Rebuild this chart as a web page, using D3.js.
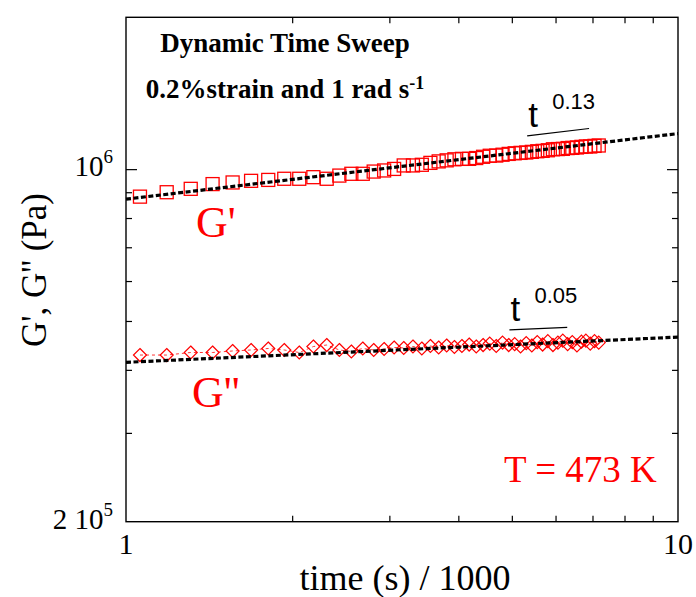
<!DOCTYPE html>
<html>
<head>
<meta charset="utf-8">
<script src="https://cdn.jsdelivr.net/npm/d3@7"></script>
<style>
  html, body { margin: 0; padding: 0; background: #fff; }
  svg { display: block; }
</style>
</head>
<body>
<svg id="chart" width="696" height="597"></svg>
<script>
// Dynamic time sweep, 0.2 % strain, 1 rad/s, T = 473 K
// time in units of 1000 s
const time = [
  1.06, 1.185, 1.31, 1.435, 1.56, 1.685, 1.81, 1.935, 2.06, 2.185,
  2.31, 2.435, 2.56, 2.685, 2.81, 2.935, 3.06, 3.185, 3.31, 3.435,
  3.56, 3.685, 3.81, 3.935, 4.06, 4.185, 4.31, 4.435, 4.56, 4.685,
  4.81, 4.935, 5.06, 5.185, 5.31, 5.435, 5.56, 5.685, 5.81, 5.935,
  6.06, 6.185, 6.31, 6.435, 6.56, 6.685, 6.81, 6.935, 7.06, 7.185
];
// storage modulus G' (Pa)
const storageModulus = [
  8.82e5, 9.00e5, 9.14e5, 9.34e5, 9.41e5, 9.48e5, 9.52e5, 9.57e5, 9.57e5, 9.64e5,
  9.57e5, 9.71e5, 9.79e5, 9.79e5, 9.89e5, 9.94e5, 1.001e6, 1.017e6, 1.017e6, 1.020e6,
  1.029e6, 1.036e6, 1.041e6, 1.046e6, 1.048e6, 1.048e6, 1.052e6, 1.058e6, 1.063e6, 1.064e6,
  1.068e6, 1.072e6, 1.075e6, 1.077e6, 1.079e6, 1.082e6, 1.085e6, 1.087e6, 1.090e6, 1.095e6,
  1.096e6, 1.097e6, 1.101e6, 1.102e6, 1.104e6, 1.107e6, 1.109e6, 1.109e6, 1.112e6, 1.114e6
];
// loss modulus G'' (Pa)
const lossModulus = [
  4.28e5, 4.28e5, 4.33e5, 4.33e5, 4.36e5, 4.38e5, 4.41e5, 4.38e5, 4.33e5, 4.45e5,
  4.48e5, 4.38e5, 4.35e5, 4.41e5, 4.38e5, 4.40e5, 4.43e5, 4.42e5, 4.45e5, 4.41e5,
  4.46e5, 4.43e5, 4.47e5, 4.44e5, 4.46e5, 4.49e5, 4.45e5, 4.48e5, 4.51e5, 4.46e5,
  4.53e5, 4.48e5, 4.50e5, 4.45e5, 4.52e5, 4.47e5, 4.54e5, 4.49e5, 4.56e5, 4.48e5,
  4.53e5, 4.57e5, 4.50e5, 4.54e5, 4.47e5, 4.55e5, 4.57e5, 4.51e5, 4.56e5, 4.53e5
];

// power-law fits G = A * t^n  (G', G'')
const fitPrefactor = [8.72e5, 4.14e5];
const fitExponent  = [0.13, 0.05];
const fitLabel     = ["0.13", "0.05"];
// slope guide segments drawn above each data set
const guideStart = [5.33, 4.95];
const guideEnd   = [6.90, 6.30];
const guideLevel = [1.164e6, 4.80e5];

const xDomain = [1, 10];
const yDomain = [2e5, 2e6];
const xMinorTicks = [2, 3, 4, 5, 6, 7, 8, 9];
const yMinorTicks = [3e5, 4e5, 5e5, 6e5, 7e5, 8e5, 9e5];
const yMajorTicks = [1e6];

const serif = "'Liberation Serif', 'Times New Roman', Times, serif";
const sans  = "'Liberation Sans', Arial, Helvetica, sans-serif";
const red = "#ff0000";

const svg = d3.select("#chart");
const frameL = 126, frameR = 678, frameT = 17.3, frameB = 521.7;

const x = d3.scaleLog().domain(xDomain).range([frameL, frameR]);
const y = d3.scaleLog().domain(yDomain).range([frameB, frameT]);

const plot = svg.append("g");

// ticks, pointing into the frame on all four sides
const tickStyle = g => g.call(s => s.select(".domain").remove())
  .selectAll(".tick line").attr("stroke", "#000").attr("stroke-width", 1.2);

plot.append("g").attr("transform", `translate(0,${frameB})`)
  .call(d3.axisBottom(x).tickValues(xMinorTicks).tickSize(-6).tickFormat(""))
  .call(tickStyle);
plot.append("g").attr("transform", `translate(0,${frameT})`)
  .call(d3.axisTop(x).tickValues(xMinorTicks).tickSize(-6).tickFormat(""))
  .call(tickStyle);
plot.append("g").attr("transform", `translate(${frameL},0)`)
  .call(d3.axisLeft(y).tickValues(yMinorTicks).tickSize(-6).tickFormat(""))
  .call(tickStyle);
plot.append("g").attr("transform", `translate(${frameL},0)`)
  .call(d3.axisLeft(y).tickValues(yMajorTicks).tickSize(-11).tickFormat(""))
  .call(tickStyle);
plot.append("g").attr("transform", `translate(${frameR},0)`)
  .call(d3.axisRight(y).tickValues(yMinorTicks).tickSize(-6).tickFormat(""))
  .call(tickStyle);
plot.append("g").attr("transform", `translate(${frameR},0)`)
  .call(d3.axisRight(y).tickValues(yMajorTicks).tickSize(-11).tickFormat(""))
  .call(tickStyle);

// frame
plot.append("rect")
  .attr("x", frameL).attr("y", frameT)
  .attr("width", frameR - frameL).attr("height", frameB - frameT)
  .attr("fill", "none").attr("stroke", "#000").attr("stroke-width", 1.4);

const pts = (vals) => time.map((t, i) => [t, vals[i]]);
const line = d3.line().x(d => x(d[0])).y(d => y(d[1]));

// thin dashed connector through the G'' points
plot.append("path")
  .datum(pts(lossModulus))
  .attr("d", line)
  .attr("fill", "none").attr("stroke", red)
  .attr("stroke-width", 0.8).attr("stroke-dasharray", "3,3");

// G' : open squares
const sq = 13;
plot.append("g").selectAll("rect")
  .data(pts(storageModulus))
  .join("rect")
  .attr("x", d => x(d[0]) - sq / 2)
  .attr("y", d => y(d[1]) - sq / 2)
  .attr("width", sq).attr("height", sq)
  .attr("fill", "none").attr("stroke", red).attr("stroke-width", 1.3);

// G'' : open diamonds
const dr = 6.5;
plot.append("g").selectAll("path")
  .data(pts(lossModulus))
  .join("path")
  .attr("d", d => {
    const cx = x(d[0]), cy = y(d[1]);
    return `M${cx},${cy - dr}L${cx + dr},${cy}L${cx},${cy + dr}L${cx - dr},${cy}Z`;
  })
  .attr("fill", "none").attr("stroke", red).attr("stroke-width", 1.2);

// power-law fits across the full time window
fitPrefactor.forEach((A, i) => {
  const n = fitExponent[i];
  plot.append("path")
    .datum(xDomain.map(t => [t, A * Math.pow(t, n)]))
    .attr("d", line)
    .attr("fill", "none").attr("stroke", "#000")
    .attr("stroke-width", 3.2).attr("stroke-dasharray", "5,2.5");
});

// slope guides with exponent labels
guideStart.forEach((t0, i) => {
  const t1 = guideEnd[i], n = fitExponent[i], g0 = guideLevel[i];
  const seg = [[t0, g0], [t1, g0 * Math.pow(t1 / t0, n)]];
  plot.append("path").datum(seg).attr("d", line)
    .attr("stroke", "#000").attr("stroke-width", 1.2).attr("fill", "none");
  const tx = x(t0) + 1, ty = y(g0) - 9;
  svg.append("text").attr("x", tx).attr("y", ty)
    .attr("font-family", sans).attr("font-size", 35).text("t");
  svg.append("text").attr("x", tx + 24).attr("y", ty - 18)
    .attr("font-family", sans).attr("font-size", 22).text(fitLabel[i]);
});

// axis tick labels
const xLabels = [1, 10];
xLabels.forEach(v => {
  svg.append("text").attr("x", x(v)).attr("y", 554)
    .attr("text-anchor", "middle").attr("font-family", serif)
    .attr("font-size", 30).text(String(v));
});

const yLabels = [[1e6, "10", "6"], [2e5, "2 10", "5"]];
yLabels.forEach(([v, base, exp]) => {
  const t = svg.append("text").attr("x", 113).attr("y", y(v) + 7)
    .attr("text-anchor", "end").attr("font-family", serif).attr("font-size", 29);
  t.append("tspan").text(base);
  t.append("tspan").attr("font-size", 19).attr("dy", -13).text(exp);
});

// axis titles
svg.append("text").attr("x", 405).attr("y", 590)
  .attr("text-anchor", "middle").attr("font-family", serif).attr("font-size", 36)
  .text("time (s) / 1000");
svg.append("text").attr("transform", "translate(46,270) rotate(-90)")
  .attr("text-anchor", "middle").attr("font-family", serif).attr("font-size", 35)
  .text("G', G'' (Pa)");

// heading
svg.append("text").attr("x", 285).attr("y", 51.5)
  .attr("text-anchor", "middle").attr("font-family", serif)
  .attr("font-weight", "bold").attr("font-size", 27)
  .text("Dynamic Time Sweep");
const sub = svg.append("text").attr("x", 285).attr("y", 98)
  .attr("text-anchor", "middle").attr("font-family", serif)
  .attr("font-weight", "bold").attr("font-size", 27);
sub.append("tspan").text("0.2%strain and 1 rad s");
sub.append("tspan").attr("font-size", 18).attr("dy", -9).text("-1");

// series and temperature labels
svg.append("text").attr("x", 196).attr("y", 237)
  .attr("font-family", serif).attr("font-size", 44).attr("fill", red).text("G'");
svg.append("text").attr("x", 192).attr("y", 407)
  .attr("font-family", serif).attr("font-size", 44).attr("fill", red).text("G''");
svg.append("text").attr("x", 504).attr("y", 482)
  .attr("font-family", serif).attr("font-size", 37).attr("fill", red).text("T = 473 K");
</script>
</body>
</html>
